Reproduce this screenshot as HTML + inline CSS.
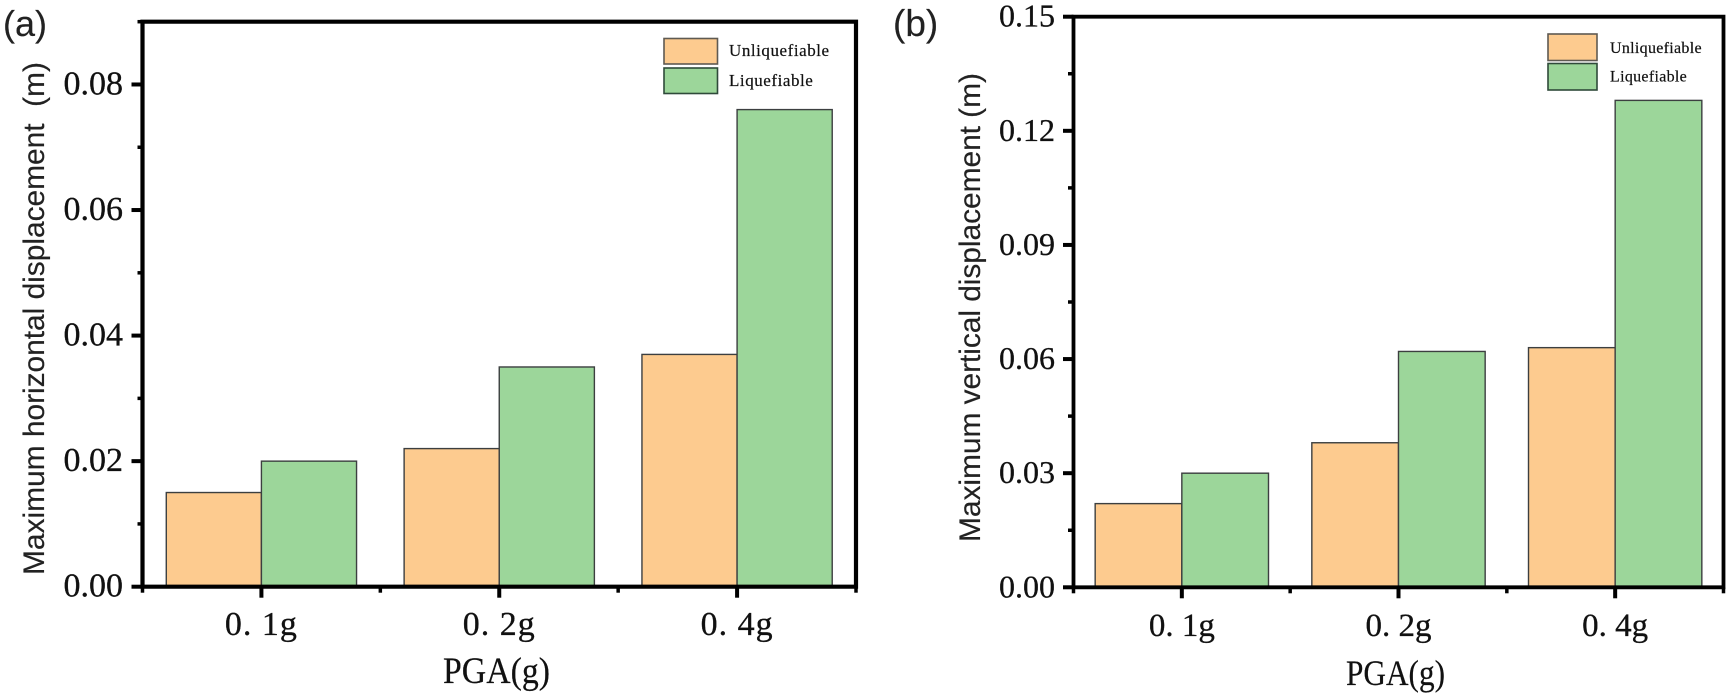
<!DOCTYPE html>
<html lang="en">
<head>
<meta charset="utf-8">
<title>Maximum displacement vs PGA</title>
<style>
html,body{margin:0;padding:0;background:#fff;width:1729px;height:695px;overflow:hidden}
svg{display:block}
.tick{font-family:"Liberation Serif",serif;fill:#111;stroke:#111;stroke-width:.3}
.title{font-family:"Liberation Sans",sans-serif;fill:#222;stroke:#222;stroke-width:.15}
.serif{font-family:"Liberation Serif",serif;fill:#111;stroke:#111;stroke-width:.2}
</style>
</head>
<body>
<svg id="chart" xmlns="http://www.w3.org/2000/svg" width="1729" height="695" viewBox="0 0 1729 695">
  <rect x="0" y="0" width="1729" height="695" fill="#fff"/>
  <g id="panel-a">
    <text class="title" x="3" y="36" font-size="36">(a)</text>
    <text class="title" font-size="30" transform="translate(44,575) rotate(-90)" textLength="513" lengthAdjust="spacing" xml:space="preserve">Maximum horizontal displacement  (m)</text>
    <text class="serif" x="443" y="683" font-size="37" textLength="107" lengthAdjust="spacingAndGlyphs">PGA(g)</text>
  </g>
  <g id="panel-b">
    <text class="title" x="893" y="36" font-size="37">(b)</text>
    <text class="title" font-size="30" transform="translate(980,542) rotate(-90)" textLength="469" lengthAdjust="spacing">Maximum vertical displacement (m)</text>
    <text class="serif" x="1346" y="685" font-size="36" textLength="99" lengthAdjust="spacingAndGlyphs">PGA(g)</text>
  </g>
</svg>
<script>
const categories = ['0. 1g', '0. 2g', '0. 4g'];
const seriesNames = ['Unliquefiable', 'Liquefiable'];
const unliquefiableA = [0.015, 0.022, 0.037];
const liquefiableA = [0.020, 0.035, 0.076];
const unliquefiableB = [0.022, 0.038, 0.063];
const liquefiableB = [0.030, 0.062, 0.128];
const yTicksA = [0, 0.02, 0.04, 0.06, 0.08];
const yTicksB = [0, 0.03, 0.06, 0.09, 0.12, 0.15];

const NS = 'http://www.w3.org/2000/svg';
const ORANGE = '#fdcb8f';
const GREEN = '#9cd69a';
const EDGE = '#3c3f40';

function mk(parent, tag, attrs, text) {
  const el = document.createElementNS(NS, tag);
  for (const k in attrs) el.setAttribute(k, attrs[k]);
  if (text !== undefined) el.textContent = text;
  parent.appendChild(el);
  return el;
}

function drawPanel(root, id, L, unl, liq, ticks) {
  const x = c => L.left + (c + 0.5) * (L.right - L.left) / categories.length;
  const y = v => L.bottom - (v / L.yMax) * (L.bottom - L.top);
  const catW = (L.right - L.left) / categories.length;
  const barW = catW * 0.4;

  categories.forEach((cat, i) => {
    [unl, liq].forEach((vals, s) => {
      const r = mk(root, 'rect', {
        x: s === 0 ? x(i) - barW : x(i),
        y: y(vals[i]),
        width: barW,
        height: L.bottom - y(vals[i]),
        fill: s === 0 ? ORANGE : GREEN,
        stroke: EDGE,
        'stroke-width': 1.4
      });
      
      
    });
  });

  // y ticks
  ticks.forEach((v, i) => {
    const t = mk(root, 'line', { x1: L.left - L.majorLen, x2: L.left, y1: y(v), y2: y(v), stroke: '#000', 'stroke-width': 4 });
    
    
    const lab = mk(root, 'text', { class: 'tick', x: L.yLabelX, y: y(v) + L.yLabelDy, 'text-anchor': 'end', 'font-size': L.yFont }, v.toFixed(2));
    
    
    const step = ticks[1] - ticks[0];
    const mv = v + step / 2;
    if (mv <= L.yMax + 1e-9) {
      const m = mk(root, 'line', { x1: L.left - L.minorLen, x2: L.left, y1: y(mv), y2: y(mv), stroke: '#000', 'stroke-width': 3.5 });
      
      
    }
  });

  // x ticks
  categories.forEach((cat, i) => {
    const t = mk(root, 'line', { x1: x(i), x2: x(i), y1: L.bottom, y2: L.bottom + 11, stroke: '#000', 'stroke-width': 4 });
    
    
    const lab = mk(root, 'text', { class: 'tick', x: x(i), y: L.catY, 'text-anchor': 'middle', 'font-size': L.catFont, 'xml:space': 'preserve', 'letter-spacing': L.catSpacing }, cat);
    
    
  });
  for (let i = 0; i <= categories.length; i++) {
    const mx = L.left + i * catW;
    const m = mk(root, 'line', { x1: mx, x2: mx, y1: L.bottom, y2: L.bottom + 6, stroke: '#000', 'stroke-width': 3.5 });
    
    
  }

  // frame
  const frame = mk(root, 'path', {
    d: 'M' + L.left + ' ' + L.bottom + 'V' + L.top + 'H' + L.right + 'V' + L.bottom + 'Z',
    fill: 'none', stroke: '#000', 'stroke-width': L.frameW
  });
  
  

  // legend
  seriesNames.forEach((name, s) => {
    const g = mk(root, 'g', {});
    
    
    const sw = mk(g, 'rect', {
      x: L.legX, y: L.legY[s], width: L.legW, height: L.legH,
      fill: s === 0 ? ORANGE : GREEN, stroke: s === 0 ? '#5f5a52' : '#2f4a3a', 'stroke-width': 1.6
    });
    
    
    const tx = mk(g, 'text', { class: 'serif', x: L.legTextX, y: L.legBase[s], 'font-size': L.legFont, 'letter-spacing': L.legSpacing }, name);
    
    
  });
}

const layoutA = { left: 142.5, right: 856, top: 21.7, bottom: 586.7, yMax: 0.09, majorLen: 11, minorLen: 5,
  yLabelX: 123, yLabelDy: 10, yFont: 34, catY: 635, catFont: 34, catSpacing: 1,
  frameW: 4.2, legX: 664, legW: 53.5, legH: 25.5, legY: [38.5, 68], legTextX: 729, legBase: [56, 86], legFont: 17, legSpacing: 0.55 };
const layoutB = { left: 1073.5, right: 1723.5, top: 16.7, bottom: 587.3, yMax: 0.15, majorLen: 10.5, minorLen: 5.5,
  yLabelX: 1055, yLabelDy: 10, yFont: 32, catY: 636, catFont: 33, catSpacing: 0,
  frameW: 3.8, legX: 1548, legW: 49, legH: 26.5, legY: [34, 63.5], legTextX: 1610, legBase: [53, 81.5], legFont: 16, legSpacing: 0.3 };

drawPanel(document.getElementById('panel-a'), 'a', layoutA, unliquefiableA, liquefiableA, yTicksA);
drawPanel(document.getElementById('panel-b'), 'b', layoutB, unliquefiableB, liquefiableB, yTicksB);
</script>
</body>
</html>
